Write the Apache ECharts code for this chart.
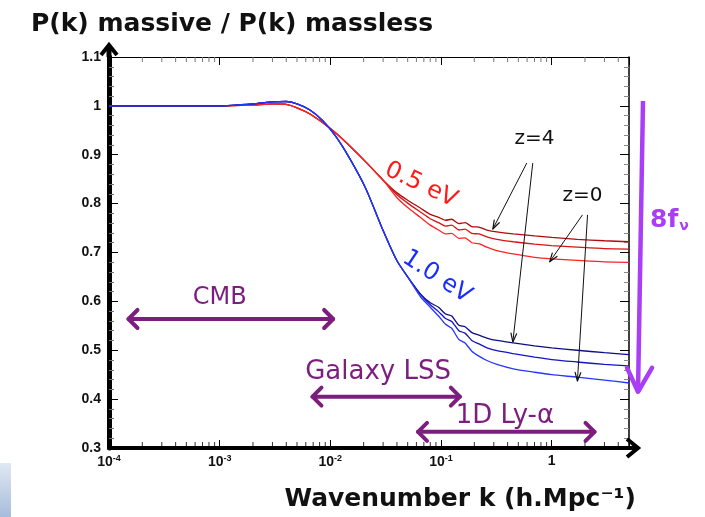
<!DOCTYPE html>
<html><head><meta charset="utf-8">
<script src="https://cdn.jsdelivr.net/npm/echarts@6/dist/echarts.min.js"></script>
<style>html,body{margin:0;padding:0;background:#fff}#c{width:705px;height:517px}</style>
</head><body><div id="c"></div>
<script>
// ---- data ----
const K = [1e-4, 3e-4, 1e-3, 2e-3, 3e-3, 4e-3, 5e-3, 6.5e-3, 8.5e-3, 0.011, 0.015, 0.021, 0.03, 0.04, 0.05, 0.065, 0.08, 0.095, 0.11, 0.125, 0.145, 0.165, 0.19, 0.22, 0.26, 0.32, 0.45, 0.7, 1.0, 1.7, 3.0, 5.0];
const RED_Z4  = [1.000,1.000,1.000,1.002,1.004,1.003,0.996,0.984,0.966,0.946,0.918,0.885,0.848,0.822,0.807,0.791,0.778,0.772,0.766,0.768,0.759,0.761,0.753,0.752,0.746,0.742,0.738,0.734,0.731,0.727,0.724,0.722];
const RED_MID = [1.000,1.000,1.000,1.002,1.004,1.003,0.996,0.984,0.966,0.946,0.918,0.885,0.848,0.818,0.801,0.783,0.769,0.761,0.754,0.756,0.746,0.748,0.739,0.738,0.732,0.727,0.722,0.717,0.714,0.711,0.708,0.707];
const RED_Z0  = [1.000,1.000,1.000,1.002,1.004,1.003,0.996,0.984,0.966,0.946,0.918,0.885,0.848,0.812,0.792,0.772,0.756,0.746,0.738,0.739,0.729,0.730,0.720,0.718,0.711,0.704,0.697,0.690,0.687,0.684,0.681,0.680];
const BLUE_Z4  = [1.000,1.000,1.000,1.004,1.008,1.009,1.004,0.992,0.970,0.940,0.892,0.830,0.745,0.683,0.650,0.615,0.597,0.588,0.574,0.570,0.551,0.548,0.536,0.531,0.525,0.520,0.515,0.509,0.505,0.500,0.495,0.491];
const BLUE_MID = [1.000,1.000,1.000,1.004,1.008,1.009,1.004,0.992,0.970,0.940,0.892,0.830,0.745,0.683,0.650,0.615,0.593,0.579,0.565,0.559,0.540,0.535,0.520,0.513,0.505,0.499,0.493,0.486,0.481,0.476,0.471,0.468];
const BLUE_Z0  = [1.000,1.000,1.000,1.004,1.008,1.009,1.004,0.992,0.970,0.940,0.892,0.830,0.745,0.683,0.650,0.610,0.588,0.570,0.553,0.545,0.522,0.515,0.498,0.488,0.479,0.471,0.462,0.455,0.450,0.445,0.439,0.433];
const X_MINOR_TICKS = [2e-4,3e-4,4e-4,5e-4,6e-4,7e-4,8e-4,9e-4,
  2e-3,3e-3,4e-3,5e-3,6e-3,7e-3,8e-3,9e-3,
  0.02,0.03,0.04,0.05,0.06,0.07,0.08,0.09,
  0.2,0.3,0.4,0.5,0.6,0.7,0.8,0.9,
  2,3,4];
const K_MIN = 1e-4, K_MAX = 5, Y_MIN = 0.3, Y_MAX = 1.1, Y_STEP = 0.1;

const chart = echarts.init(document.getElementById('c'));
const FONT = 'DejaVu Sans';
const LFONT = 'Liberation Sans';
const PURPLE = '#7b1e7d';
const VIOLET = '#a83ef6';

function xLabel(v){
  const e = Math.round(Math.log10(v));
  if (Math.abs(Math.log10(v) - e) > 1e-6) return '';
  if (e === 0) return '{b|1}';
  return '{b|10}{s|' + e + '}';
}
function lineSeries(name, arr, color){
  return {name, type:'line', data: K.map((k,i)=>[k, arr[i]]), showSymbol:false, smooth:0.2,
    lineStyle:{color, width:1.3}, itemStyle:{color}, z:3, silent:true};
}

chart.setOption({
  animation:false,
  backgroundColor:'#fff',
  title:[
    {text:'P(k) massive / P(k) massless', left:26, top:7, textStyle:{fontFamily:FONT, fontSize:25, fontWeight:'bold', color:'#111'}},
    {text:'Wavenumber k (h.Mpc⁻¹)', right:64, top:482, textStyle:{fontFamily:FONT, fontSize:25, fontWeight:'bold', color:'#111'}}
  ],
  grid:{left:109, right:76, top:57, bottom:69},
  xAxis:[
    {type:'log', min:K_MIN, max:K_MAX, logBase:10, position:'bottom',
     axisLine:{show:true, lineStyle:{color:'#000', width:4}},
     axisTick:{show:true, inside:true, length:8, lineStyle:{color:'#000', width:1}},
     minorTick:{show:false}, splitLine:{show:false},
     axisLabel:{formatter:xLabel, margin:6, rich:{
       b:{fontFamily:LFONT, fontSize:14, fontWeight:'bold', color:'#111'},
       s:{fontFamily:LFONT, fontSize:9, fontWeight:'bold', color:'#111', verticalAlign:'bottom', padding:[0,0,7,0]}}}},
    {type:'log', min:K_MIN, max:K_MAX, logBase:10, position:'top',
     axisLine:{show:true, lineStyle:{color:'#000', width:1}},
     axisTick:{show:true, inside:true, length:8, lineStyle:{color:'#000'}},
     axisLabel:{show:false}, splitLine:{show:false}}
  ],
  yAxis:[
    {type:'value', min:Y_MIN, max:Y_MAX, interval:Y_STEP, position:'left',
     axisLine:{show:true, lineStyle:{color:'#000', width:5}},
     axisTick:{show:true, inside:true, length:9, lineStyle:{color:'#000'}},
     minorTick:{show:true, splitNumber:5, length:5, lineStyle:{color:'#777'}},
     splitLine:{show:false},
     axisLabel:{margin:8, fontFamily:LFONT, fontSize:14, fontWeight:'bold', color:'#111',
       formatter:v=> Math.abs(v-1)<1e-9 ? '1' : (+v).toFixed(1)}},
    {type:'value', min:Y_MIN, max:Y_MAX, interval:Y_STEP, position:'right',
     axisLine:{show:true, lineStyle:{color:'#000', width:1.5}},
     axisTick:{show:true, inside:true, length:9, lineStyle:{color:'#000'}},
     minorTick:{show:true, splitNumber:5, length:5, lineStyle:{color:'#888'}},
     splitLine:{show:false}, axisLabel:{show:false}}
  ],
  series:[
    lineSeries('0.5 eV z=4', RED_Z4, '#b00c0c'),
    lineSeries('0.5 eV mid', RED_MID, '#d81414'),
    lineSeries('0.5 eV z=0', RED_Z0, '#ff2424'),
    lineSeries('1.0 eV z=4', BLUE_Z4, '#0e0e8c'),
    lineSeries('1.0 eV mid', BLUE_MID, '#1414c4'),
    lineSeries('1.0 eV z=0', BLUE_Z0, '#2436ff'),
    {type:'custom', silent:true, z:2, data: X_MINOR_TICKS.map(k=>[k, Y_MIN]),
     renderItem:function(params, api){
       const k = api.value(0);
       const b = api.coord([k, Y_MIN]);
       const t = api.coord([k, Y_MAX]);
       return {type:'group', children:[
         {type:'line', shape:{x1:b[0], y1:b[1]-2, x2:b[0], y2:b[1]-6}, style:{stroke:'#333', lineWidth:1}},
         {type:'line', shape:{x1:t[0], y1:t[1], x2:t[0], y2:t[1]+5}, style:{stroke:'#777', lineWidth:1}}
       ]};
     }}
  ]
});

// ---- annotations (positions in data space) ----
const CMB_ARROW = [[1.5e-4, 0.564], [0.0106, 0.564]];
const CMB_TEXT = [1.0e-3, 0.607];
const LSS_ARROW = [[6.9e-3, 0.405], [0.148, 0.405]];
const LSS_TEXT = [0.027, 0.454];
const LYA_ARROW = [[0.062, 0.333], [2.44, 0.333]];
const LYA_TEXT = [0.378, 0.364];
const EV05_TEXT = [0.066, 0.838];
const EV10_TEXT = [0.092, 0.650];
const Z4_TEXT = [0.70, 0.932];
const Z0_TEXT = [1.90, 0.816];
const Z4_ARROWS = [[[0.596, 0.883], [0.294, 0.748]], [[0.675, 0.883], [0.446, 0.517]]];
const Z0_ARROWS = [[[1.90, 0.777], [0.96, 0.681]], [[2.11, 0.777], [1.71, 0.437]]];
const FNU_TOP = 1.010, FNU_BOTTOM = 0.415, FNU_TEXT_Y = 0.765;

function P(p){ return chart.convertToPixel({seriesIndex:0}, p); }
const G = [];
function dblArrow(a, b, color, w, h){
  const p = P(a), q = P(b);
  G.push({type:'polyline', shape:{points:[p,q]}, style:{stroke:color, lineWidth:w, lineCap:'round'}, z:10});
  G.push({type:'polyline', shape:{points:[[p[0]+h,p[1]-h],[p[0],p[1]],[p[0]+h,p[1]+h]]}, style:{stroke:color, fill:null, lineWidth:w, lineCap:'round', lineJoin:'round'}, z:10});
  G.push({type:'polyline', shape:{points:[[q[0]-h,q[1]-h],[q[0],q[1]],[q[0]-h,q[1]+h]]}, style:{stroke:color, fill:null, lineWidth:w, lineCap:'round', lineJoin:'round'}, z:10});
}
function arrowTo(p, q, color, w, h, ang){
  const dx = p[0]-q[0], dy = p[1]-q[1], L = Math.hypot(dx, dy), ux = dx/L, uy = dy/L;
  const c = Math.cos(ang), s = Math.sin(ang);
  const a1 = [q[0] + h*(ux*c - uy*s), q[1] + h*(ux*s + uy*c)];
  const a2 = [q[0] + h*(ux*c + uy*s), q[1] + h*(-ux*s + uy*c)];
  G.push({type:'polyline', shape:{points:[p,q]}, style:{stroke:color, lineWidth:w}, z:10});
  G.push({type:'polyline', shape:{points:[a1,q,a2]}, style:{stroke:color, fill:null, lineWidth:w*1.2, lineJoin:'round', lineCap:'round'}, z:10});
}
function text(pos, str, color, size, rot, weight){
  const p = P(pos);
  G.push({type:'text', x:p[0], y:p[1], rotation:rot||0, z:11,
    style:{text:str, fill:color, font:(weight||'normal')+' '+size+'px "'+FONT+'"', textAlign:'center', textVerticalAlign:'middle'}});
}

dblArrow(CMB_ARROW[0], CMB_ARROW[1], PURPLE, 4, 9);
dblArrow(LSS_ARROW[0], LSS_ARROW[1], PURPLE, 4, 9);
dblArrow(LYA_ARROW[0], LYA_ARROW[1], PURPLE, 4, 9);
text(CMB_TEXT, 'CMB', PURPLE, 24);
text(LSS_TEXT, 'Galaxy LSS', PURPLE, 26);
text(LYA_TEXT, '1D Ly-α', PURPLE, 26);
text(EV05_TEXT, '0.5 eV', '#ff1a1a', 24, -0.44);
text(EV10_TEXT, '1.0 eV', '#1a2cff', 24, -0.58);
text(Z4_TEXT, 'z=4', '#111', 20);
text(Z0_TEXT, 'z=0', '#111', 20);
Z4_ARROWS.concat(Z0_ARROWS).forEach(a => arrowTo(P(a[0]), P(a[1]), '#111', 1, 9, 0.32));

// axis arrow tips and violet 8fν arrow, placed relative to the plot frame
const origin = P([K_MIN, Y_MIN]);
const corner = P([K_MAX, Y_MAX]);
G.push({type:'polyline', shape:{points:[[origin[0], corner[1]], [origin[0], corner[1]-11]]}, style:{stroke:'#000', lineWidth:5}, z:12});
G.push({type:'polyline', shape:{points:[[origin[0]-8, corner[1]-2],[origin[0], corner[1]-12],[origin[0]+8, corner[1]-2]]}, style:{stroke:'#000', fill:null, lineWidth:4, lineJoin:'miter'}, z:12});
G.push({type:'polyline', shape:{points:[[corner[0], origin[1]], [corner[0]+8, origin[1]]]}, style:{stroke:'#000', lineWidth:4}, z:12});
G.push({type:'polyline', shape:{points:[[corner[0]-2, origin[1]-9],[corner[0]+9, origin[1]],[corner[0]-2, origin[1]+9]]}, style:{stroke:'#000', fill:null, lineWidth:4, lineJoin:'miter'}, z:12});

const fTop = P([K_MAX, FNU_TOP]), fBot = P([K_MAX, FNU_BOTTOM]);
const tip = [corner[0]+9, fBot[1]];
G.push({type:'polyline', shape:{points:[[corner[0]+14, fTop[1]], tip]}, style:{stroke:VIOLET, lineWidth:4.5}, z:12});
G.push({type:'polyline', shape:{points:[[tip[0]-11, tip[1]-24], tip, [tip[0]+14, tip[1]-24]]}, style:{stroke:VIOLET, fill:null, lineWidth:4.5, lineJoin:'round', lineCap:'round'}, z:12});
const fT = P([K_MAX, FNU_TEXT_Y]);
G.push({type:'text', x:corner[0]+21, y:fT[1], z:12, style:{text:'{a|8f}{b|ν}', textVerticalAlign:'middle',
  rich:{a:{fontFamily:FONT, fontSize:25, fontWeight:'bold', fill:VIOLET},
        b:{fontFamily:FONT, fontSize:14, fontWeight:'bold', fill:VIOLET, verticalAlign:'bottom', padding:[10,0,0,1]}}}});

// faint blue block bottom-left
G.push({type:'rect', shape:{x:0, y:463, width:11, height:54}, z:1,
  style:{fill:new echarts.graphic.LinearGradient(0,0,0,1,[{offset:0,color:'#e1e8f2'},{offset:1,color:'#a7bcdb'}])}});

chart.setOption({graphic:G});
</script></body></html>
